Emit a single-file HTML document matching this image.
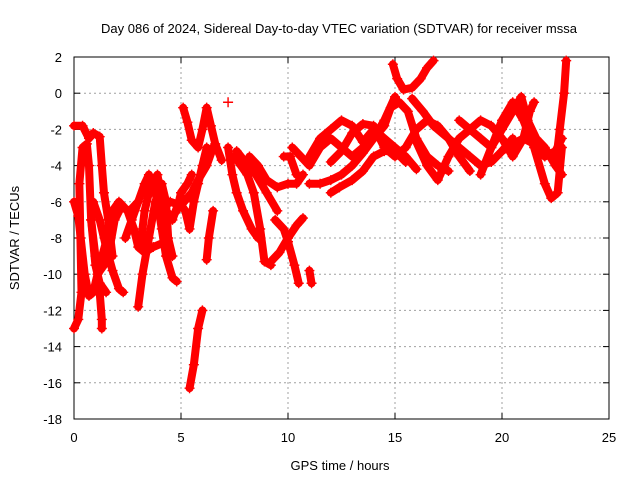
<!DOCTYPE html>
<html><head><meta charset="utf-8"><style>
body{margin:0;background:#fff;}
svg{display:block;font-family:"Liberation Sans",sans-serif;}
</style></head><body>
<svg id="chart" width="640" height="480">
<text x="339" y="33" font-size="13" text-anchor="middle">Day 086 of 2024, Sidereal Day-to-day VTEC variation (SDTVAR) for receiver mssa</text>
<text x="340" y="470" font-size="13" text-anchor="middle">GPS time / hours</text>
<text transform="translate(19,238) rotate(-90)" font-size="13" text-anchor="middle">SDTVAR / TECUs</text>
<g id="grid"></g><g id="axes"></g><g id="marks"></g>
</svg>
<script>
const xTicks=[0,5,10,15,20,25];
const yTicks=[-18,-16,-14,-12,-10,-8,-6,-4,-2,0,2];
const trackA=[[0,-1.8],[0.4,-1.8],[0.7,-2.5],[0.9,-2.2],[1.2,-2.4],[1.3,-4],[1.4,-5.5],[1.6,-7],[1.8,-9]];
const trackB=[[0,-13],[0.2,-12.5],[0.35,-11],[0.3,-8],[0.25,-5],[0.4,-3],[0.6,-2.8],[0.7,-4],[0.8,-7],[1.0,-9.5],[1.2,-10.5],[1.5,-11]];
const trackC=[[0,-6],[0.2,-6.8],[0.5,-10],[0.7,-11.2],[0.9,-11],[1.1,-10],[1.4,-9.5],[1.6,-9],[1.9,-7],[2.2,-6.3],[2.6,-6.5],[3,-6]];
const trackD=[[0.8,-7],[1.0,-9],[1.2,-11],[1.3,-12.5],[1.3,-13]];
const trackE=[[0.9,-6],[1.2,-7],[1.5,-8.5],[1.8,-9.8],[2.1,-10.8],[2.3,-11]];
const trackF=[[1.2,-9.5],[1.5,-8.2],[1.8,-6.5],[2.1,-6],[2.5,-6.5],[2.8,-7.5],[3.0,-8.5],[3.3,-8.8],[3.7,-8.5],[4.1,-8.3]];
const trackG=[[2.4,-8],[2.7,-7],[3.0,-6],[3.3,-5],[3.5,-4.5],[3.7,-5],[3.9,-6],[4.1,-7.5],[4.3,-9],[4.6,-10.2],[4.8,-10.4]];
const trackH=[[3.1,-8.5],[3.3,-6.5],[3.6,-5],[3.9,-4.5],[4.1,-6],[4.4,-7],[4.8,-6.5],[5.0,-5.5],[5.3,-5],[5.5,-4.5]];
const trackI=[[3.0,-11.8],[3.2,-10],[3.5,-8],[3.8,-6],[4.1,-5],[4.3,-6],[4.4,-8],[4.6,-9]];
const trackJ=[[4.3,-6.5],[4.6,-7],[4.9,-6],[5.2,-6.5],[5.4,-7.5],[5.6,-6],[5.8,-5],[6.0,-4],[6.2,-3]];
const trackK=[[5.1,-0.8],[5.3,-1.6],[5.5,-2.6],[5.8,-3],[6.0,-2],[6.2,-0.8],[6.4,-1.8],[6.6,-2.8],[6.9,-3.7]];
const trackL=[[5.4,-16.3],[5.6,-15],[5.8,-13],[6.0,-12]];
const trackM=[[6.2,-9.2],[6.3,-8],[6.5,-6.5]];
const trackO=[[7.2,-3],[7.4,-4.5],[7.6,-5.5],[7.9,-6.5],[8.3,-7.5],[8.6,-8]];
const trackP=[[7.5,-3.5],[7.8,-4],[8.1,-4.5],[8.4,-5.5],[8.7,-7.5],[8.9,-9.3],[9.2,-9.5]];
const trackQ=[[7.6,-3.2],[8,-3.8],[8.5,-4.5],[9,-5.5],[9.5,-6.5]];
const trackR=[[9.2,-9.3],[9.6,-8.8],[10,-8],[10.4,-7.3],[10.7,-6.9]];
const trackS=[[9.4,-7],[9.8,-7.5],[10,-8.2],[10.3,-9.5],[10.5,-10.5]];
const trackT=[[8.2,-3.5],[8.6,-4],[9,-4.8],[9.5,-5.2],[10,-5],[10.4,-5],[10.7,-4.5]];
const trackU=[[9.8,-3.5],[10.1,-3.5],[10.4,-4.5]];
const trackV=[[11,-9.8],[11.1,-10.5]];
const trackW=[[10.2,-3],[10.6,-3.5],[11,-4],[11.5,-3],[12,-2.5],[12.5,-3],[13,-3.5],[13.5,-3],[14,-2.5],[14.5,-1.8],[14.8,-0.8],[15.2,-0.5],[15.6,-1],[16,-2.5],[16.5,-3.5],[17,-4],[17.5,-4.3]];
const trackX=[[11,-5],[11.5,-5],[12,-4.8],[12.5,-4.5],[13,-4],[13.5,-3.3],[14,-2.5],[14.5,-1.5],[15,-0.2]];
const trackY=[[14.9,1.6],[15.1,0.8],[15.4,0.2],[15.8,0.3],[16.2,0.8],[16.5,1.4],[16.8,1.8]];
const trackZ=[[15.8,-0.3],[16.3,-1],[16.8,-1.8],[17.5,-2.5],[18,-3],[18.5,-3.5],[19,-4],[19.5,-3.8],[20,-3.2],[20.5,-2.5]];
const trackZ2=[[16,-2.7],[16.5,-4],[17,-4.8],[17.5,-3.5],[18,-2.5],[18.5,-2],[19,-1.5],[19.5,-1.8],[20,-2.5],[20.5,-3.5],[21,-2.5],[21.3,-1],[21.5,-0.5]];
const trackZ3=[[18,-1.5],[18.5,-2],[19,-2.5],[19.5,-3],[20,-1.5],[20.5,-0.5],[21,-1.5],[21.5,-3],[22,-5],[22.3,-5.8],[22.6,-5.5],[22.8,-3]];
const trackZ4=[[19,-4.5],[19.5,-3],[20,-2],[20.5,-1],[20.9,-0.2],[21.2,-1.5],[21.6,-2.5],[22,-3],[22.5,-4],[22.8,-4.5]];
const trackZ5=[[22.5,-4],[22.7,-2],[22.9,0],[23,1.8]];
const trackZ6=[[11,-3.5],[11.5,-2.5],[12,-2],[12.5,-1.5],[13,-1.8],[13.5,-2.7],[14,-2],[14.5,-2.5],[15,-3],[15.5,-3.5],[16,-4.2]];
const trackAA=[[12,-3.8],[12.5,-3.2],[13,-2.2],[13.5,-1.7],[14,-1.8],[14.5,-3],[15,-3.5],[15.5,-3],[16,-2],[16.5,-1.5],[17,-1.8],[17.5,-2.5],[18,-3.5],[18.5,-4.3]];
const trackAB=[[12,-5.5],[12.4,-5.2],[13,-4.8],[13.5,-4.3],[14,-3.5],[14.5,-3.2],[15,-3.2],[15.5,-3.8]];
const trackAC=[[20,-3.2],[20.5,-2.8],[21,-2.5],[21.5,-2.8],[22,-3.5],[22.5,-3.2],[22.8,-2.5]];
const trackAD=[[4.5,-6],[5,-6.2],[5.5,-5.5],[5.8,-4.8],[6.2,-4],[6.5,-3]];
const trackIso=[[7.2,-0.5]];
const tracks=[trackA,trackB,trackC,trackD,trackE,trackF,trackG,trackH,trackI,trackJ,trackK,trackL,trackM,trackO,trackP,trackQ,trackR,trackS,trackT,trackU,trackV,trackW,trackX,trackY,trackZ,trackZ2,trackZ3,trackZ4,trackZ5,trackZ6,trackAA,trackAB,trackAC,trackAD,trackIso];

const X0=74,X1=609,Y0=419,Y1=57;
const sx=h=>X0+(h-0)/(25-0)*(X1-X0);
const sy=v=>Y0-(v+18)/(20)*(Y0-Y1);
const NS='http://www.w3.org/2000/svg';
function mk(t,a,p){const e=document.createElementNS(NS,t);for(const k in a)e.setAttribute(k,a[k]);p.appendChild(e);return e;}
const grid=document.getElementById('grid'),axes=document.getElementById('axes'),marks=document.getElementById('marks');
xTicks.forEach(t=>{const x=sx(t);
 if(t>0&&t<25){const g=mk('line',{x1:x,x2:x,y1:Y1,y2:Y0,stroke:'#a0a0a0','stroke-dasharray':'2,3'},grid);
 }
 mk('line',{x1:x,x2:x,y1:Y0,y2:Y0-6,stroke:'#000'},axes);mk('line',{x1:x,x2:x,y1:Y1,y2:Y1+6,stroke:'#000'},axes);
 const l=mk('text',{x:x,y:Y0+23,'font-size':13,'text-anchor':'middle'},axes);l.textContent=t;
 });
yTicks.forEach(t=>{const y=sy(t);
 if(t>-18&&t<2){const g=mk('line',{x1:X0,x2:X1,y1:y,y2:y,stroke:'#a0a0a0','stroke-dasharray':'2,3'},grid);
 }
 mk('line',{x1:X0,x2:X0+6,y1:y,y2:y,stroke:'#000'},axes);mk('line',{x1:X1,x2:X1-6,y1:y,y2:y,stroke:'#000'},axes);
 const l=mk('text',{x:X0-12,y:y+5,'font-size':13,'text-anchor':'end'},axes);l.textContent=t;
 });
const fr=mk('rect',{x:X0,y:Y1,width:X1-X0,height:Y0-Y1,fill:'none',stroke:'#000'},axes);

tracks.forEach(tr=>{
 const g=mk('g',{},marks);
 
 
 if(tr.length>1)mk('polyline',{points:tr.map(p=>sx(p[0])+','+sy(p[1])).join(' '),fill:'none',stroke:'#ff0000','stroke-width':8,'stroke-linejoin':'round','stroke-linecap':'round'},g);
 tr.forEach(p=>{const x=sx(p[0]),y=sy(p[1]);
  mk('path',{d:`M${x-5},${y}h10M${x},${y-5}v10`,stroke:'#ff0000','stroke-width':1.4},g);});
});
</script>
</body></html>
